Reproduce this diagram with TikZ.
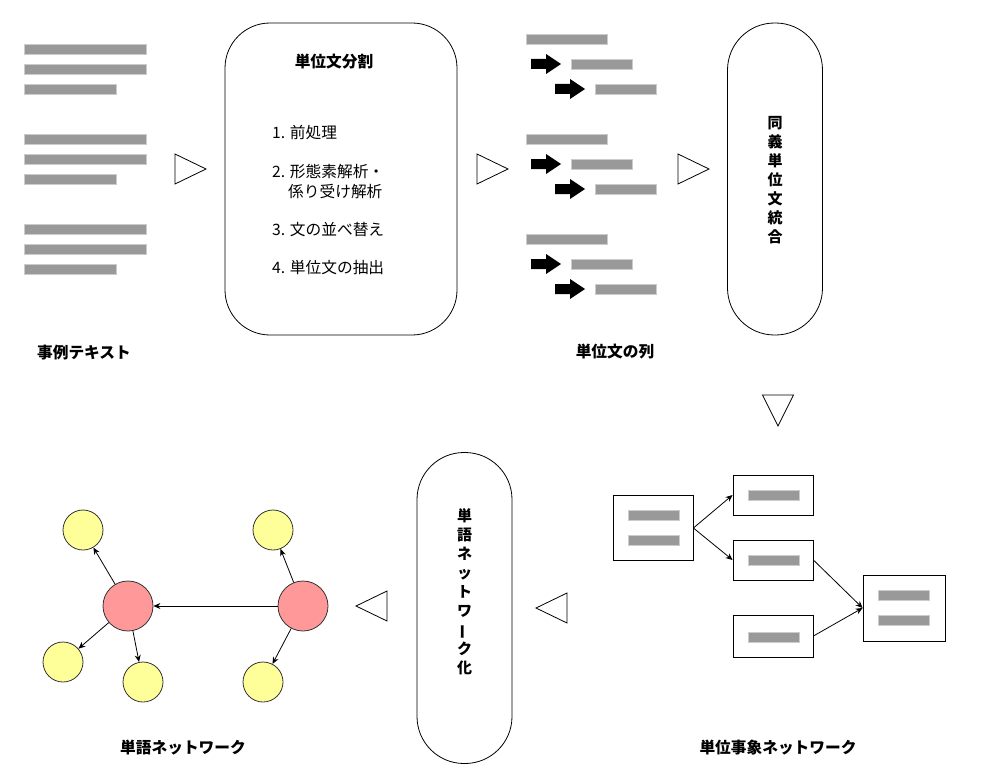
\documentclass[tikz,border=0pt]{standalone}
\usepackage{fontspec}
\usepackage{graphicx}
\setmainfont{Noto Sans CJK JP}
\usetikzlibrary{arrows.meta}
\definecolor{bargray}{HTML}{999999}
\definecolor{barline}{HTML}{CCCCCC}
\definecolor{nodered}{HTML}{FF9999}
\definecolor{nodeyellow}{HTML}{FFFF99}
\definecolor{nodeline}{HTML}{333333}
\tikzset{
  bar/.style={fill=bargray, draw=barline, line width=0.8pt, inner sep=0pt, minimum height=10pt},
  longbar/.style={bar, minimum width=122pt},
  shortbar/.style={bar, minimum width=92pt},
  ubar/.style={bar, minimum width=81pt},
  ubar2/.style={bar, minimum width=61pt},
  nbar/.style={bar, minimum width=51pt},
  procbox/.style={draw, line width=0.8pt, rounded corners=45pt, inner sep=0pt},
  capsule/.style={draw, line width=0.8pt, rounded corners=47pt, inner sep=0pt, minimum width=95pt, minimum height=312pt},
  evbox/.style={draw, line width=0.8pt, inner sep=0pt},
  lbl/.style={font=\fontsize{15.7}{18}\selectfont\bfseries, inner sep=0pt},
  item/.style={font=\fontsize{15.7}{18}\selectfont, inner sep=0pt, anchor=west},
  vtext/.style={font=\fontsize{15}{19}\selectfont\bfseries, align=center, inner sep=0pt},
  redc/.style={circle, draw=nodeline, fill=nodered, line width=0.8pt, minimum size=50pt, inner sep=0pt},
  yelc/.style={circle, draw=nodeline, fill=nodeyellow, line width=0.8pt, minimum size=40pt, inner sep=0pt},
  link/.style={-{Stealth[length=7pt,width=6pt]}, line width=0.8pt},
  fatarrow/.pic={\fill[black] (0,-5) -- (15,-5) -- (15,-10) -- (30,0) -- (15,10) -- (15,5) -- (0,5) -- cycle;},
  triright/.pic={\draw[line width=0.8pt, line join=miter] (0,-15) -- (31,0) -- (0,15) -- cycle;},
  trileft/.pic={\draw[line width=0.8pt, line join=miter] (0,-15) -- (-31,0) -- (0,15) -- cycle;},
  tridown/.pic={\draw[line width=0.8pt, line join=miter] (-15.5,0) -- (15.5,0) -- (0,31) -- cycle;},
}
\begin{document}
\begin{tikzpicture}[x=1pt,y=-1pt]
\useasboundingbox (0,0) rectangle (982,781);

% case texts
\foreach \g/\dy in {a/0,b/90,c/180}{
  \node[longbar] (t\g1) at (85,{49+\dy}) {};
  \node[longbar] (t\g2) at (85,{69+\dy}) {};
  \node[shortbar] (t\g3) at (70,{89+\dy}) {};
}
\node[lbl] (lcase) at (84,353) {事例テキスト};

% flow triangles
\pic (tr1) at (175,169) {triright};
\pic (tr2) at (477,169) {triright};
\pic (tr3) at (678,169) {triright};
\pic (td1) at (778,395) {tridown};
\pic (tl1) at (567,608) {trileft};
\pic (tl2) at (387,606) {trileft};

% unit sentence split box
\node[procbox, minimum width=232pt, minimum height=312pt] (split) at (341,179) {};
\node[lbl] (splitttl) at (334,62) {単位文分割};
\node[item] (it1) at (272,133) {1. 前処理};
\node[item] (it2) at (272,172) {2. 形態素解析・};
\node[item] (it2b) at (288,192) {係り受け解析};
\node[item] (it3) at (272,230) {3. 文の並べ替え};
\node[item] (it4) at (272,268) {4. 単位文の抽出};

% unit sentence sequences
\foreach \g/\dy in {a/0,b/100,c/200}{
  \node[ubar] (u\g1) at (566.5,{39+\dy}) {};
  \pic (fa\g1) at (531,{64+\dy}) {fatarrow};
  \node[ubar2] (u\g2) at (602,{64+\dy}) {};
  \pic (fa\g2) at (555,{89+\dy}) {fatarrow};
  \node[ubar2] (u\g3) at (626,{89+\dy}) {};
}
\node[lbl] (lseq) at (615,352) {単位文の列};

% synonym merge
\node[capsule] (merge) at (775,179) {};
\node[vtext] (mergetxt) at (775,180) {同\\義\\単\\位\\文\\統\\合};

% unit event network
\node[evbox, minimum width=80pt, minimum height=65pt] (ea) at (653,528) {};
\node[nbar] (ea1) at (653.5,515) {};
\node[nbar] (ea2) at (653.5,540) {};
\node[evbox, minimum width=80pt, minimum height=40pt] (eb) at (773,495) {};
\node[nbar] (eb1) at (773.5,495) {};
\node[evbox, minimum width=80pt, minimum height=40pt] (ec) at (773,560) {};
\node[nbar] (ec1) at (773.5,560) {};
\node[evbox, minimum width=80pt, minimum height=42pt] (ed) at (773,636) {};
\node[nbar] (ed1) at (773.5,637) {};
\node[evbox, minimum width=82pt, minimum height=66pt] (ee) at (904,608) {};
\node[nbar] (ee1) at (904,595.5) {};
\node[nbar] (ee2) at (904,620.5) {};
\draw[link] (ea.east) -- (eb.west);
\draw[link] (ea.east) -- (ec.west);
\draw[link] (ec.east) -- (ee.west);
\draw[link] (ed.east) -- (ee.west);
\node[lbl] (lev) at (778,748) {単位事象ネットワーク};

% word networking
\node[capsule, minimum height=311pt] (wnet) at (464.5,608) {};
\node[vtext] (wnettxt) at (464.5,592) {単\\語\\ネ\\ッ\\ト\\ワ\\\rotatebox[origin=c]{90}{ー}\\ク\\化};

% word network
\node[redc] (rl) at (128,606) {};
\node[redc] (rr) at (303,606) {};
\node[yelc] (y1) at (83,530) {};
\node[yelc] (y2) at (273,530) {};
\node[yelc] (y3) at (63,662) {};
\node[yelc] (y4) at (143,682) {};
\node[yelc] (y5) at (263,682) {};
\draw[link] (rr) -- (rl);
\draw[link] (rl) -- (y1);
\draw[link] (rl) -- (y3);
\draw[link] (rl) -- (y4);
\draw[link] (rr) -- (y2);
\draw[link] (rr) -- (y5);
\node[lbl] (lwn) at (183,748) {単語ネットワーク};
\end{tikzpicture}
\end{document}
